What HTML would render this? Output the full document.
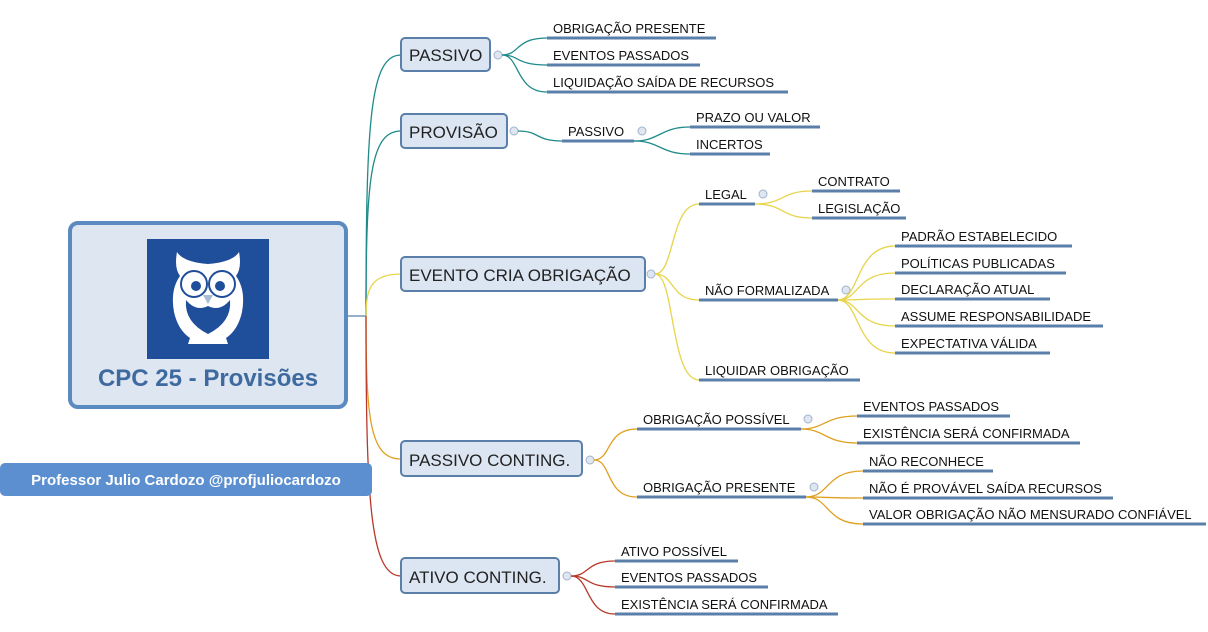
<!DOCTYPE html>
<html><head><meta charset="utf-8"><style>
html,body{margin:0;padding:0;background:#fff;}
svg{display:block;font-family:"Liberation Sans",Arial,sans-serif;}
.l{font-size:13px;fill:#111;}
.n{font-size:17px;fill:#222;}
.bar{stroke:#5a7fa8;stroke-width:3;}
.c{fill:#dfe6f0;stroke:#9fb3cc;stroke-width:1;}
.box{fill:#dce6f2;stroke:#5a7fa8;stroke-width:2;}
path{fill:none;stroke-width:1.3;}
.t{stroke:#1f8a8a}.y{stroke:#e8d44a}.o{stroke:#e0a020}.r{stroke:#b8392b}
</style></head><body>
<svg width="1208" height="632" viewBox="0 0 1208 632" xmlns="http://www.w3.org/2000/svg">
<line x1="346" y1="316" x2="366" y2="316" stroke="#5a7fa8" stroke-width="1.3"/>
<path class="t" d="M366 316 C366 120,370 55,401 55"/>
<path class="t" d="M366 316 C366 180,370 131,401 131"/>
<path class="y" d="M366 316 C366 290,370 274,401 274"/>
<path class="o" d="M366 316 C366 420,370 459,401 459"/>
<path class="r" d="M366 316 C366 500,370 576,401 576"/>

<rect x="70" y="223" width="276" height="184" rx="8" fill="#dde6f1" stroke="#5b8ac0" stroke-width="4"/>
<rect x="147" y="239" width="122" height="120" fill="#1f4e9a"/>
<!-- owl -->
<path d="M177 252 Q183 262 208 264 Q233 262 239 252 Q242 268 236 276 Q246 290 242 312 Q238 330 226 338 L228 344 L188 344 L190 338 Q178 330 174 312 Q170 290 180 276 Q174 268 177 252Z" style="fill:#fff;stroke:none"/>
<path d="M186 300 Q196 312 208 306 Q220 312 230 300 Q232 322 208 334 Q184 322 186 300Z" style="fill:#1f4e9a;stroke:none"/>
<circle cx="194" cy="284" r="13" fill="#fff" stroke="#1f4e9a" stroke-width="2"/>
<circle cx="222" cy="284" r="13" fill="#fff" stroke="#1f4e9a" stroke-width="2"/>
<circle cx="196" cy="286" r="5" fill="#1f4e9a"/><circle cx="220" cy="286" r="5" fill="#1f4e9a"/>
<path d="M203 295 L213 295 L208 304Z" style="fill:#a9bcd6;stroke:none"/>
<text x="208" y="386" text-anchor="middle" font-size="24" font-weight="bold" fill="#3f6aa0">CPC 25 - Provisões</text>

<rect x="0" y="463" width="372" height="33" rx="5" fill="#5b8fd0"/>
<text x="186" y="485" text-anchor="middle" font-size="15" font-weight="bold" fill="#fff">Professor Julio Cardozo @profjuliocardozo</text>

<rect class="box" x="401" y="38" width="89" height="33" rx="4"/><text class="n" x="409" y="61">PASSIVO</text>
<rect class="box" x="401" y="114" width="106" height="34" rx="4"/><text class="n" x="409" y="138">PROVISÃO</text>
<rect class="box" x="401" y="257" width="244" height="34" rx="4"/><text class="n" x="409" y="281">EVENTO CRIA OBRIGAÇÃO</text>
<rect class="box" x="401" y="441" width="181" height="35" rx="4"/><text class="n" x="409" y="466">PASSIVO CONTING.</text>
<rect class="box" x="401" y="558" width="158" height="35" rx="4"/><text class="n" x="409" y="583">ATIVO CONTING.</text>

<circle class="c" cx="498" cy="55" r="4"/>
<path class="t" d="M502 55 C520 55,515 38,547 38"/>
<path class="t" d="M502 55 C520 55,515 65,547 65"/>
<path class="t" d="M502 55 C520 55,515 92,547 92"/>
<line class="bar" x1="547" y1="38" x2="716" y2="38"/><text class="l" x="553" y="33">OBRIGAÇÃO PRESENTE</text>
<line class="bar" x1="547" y1="65" x2="700" y2="65"/><text class="l" x="553" y="60">EVENTOS PASSADOS</text>
<line class="bar" x1="547" y1="92" x2="788" y2="92"/><text class="l" x="553" y="87">LIQUIDAÇÃO SAÍDA DE RECURSOS</text>

<circle class="c" cx="514" cy="131" r="4"/>
<path class="t" d="M518 131 C540 131,535 141,562 141"/>
<line class="bar" x1="562" y1="141" x2="634" y2="141"/><text class="l" x="568" y="136">PASSIVO</text>
<circle class="c" cx="642" cy="131" r="4"/>
<path class="t" d="M634 141 C660 141,660 127,690 127"/>
<path class="t" d="M634 141 C660 141,660 154,690 154"/>
<line class="bar" x1="690" y1="127" x2="820" y2="127"/><text class="l" x="696" y="122">PRAZO OU VALOR</text>
<line class="bar" x1="690" y1="154" x2="770" y2="154"/><text class="l" x="696" y="149">INCERTOS</text>

<circle class="c" cx="651" cy="274" r="4"/>
<path class="y" d="M655 274 C675 274,670 204,699 204"/>
<path class="y" d="M655 274 C675 274,670 300,699 300"/>
<path class="y" d="M655 274 C675 274,670 380,699 380"/>
<line class="bar" x1="699" y1="204" x2="755" y2="204"/><text class="l" x="705" y="199">LEGAL</text>
<circle class="c" cx="763" cy="194" r="4"/>
<path class="y" d="M755 204 C785 204,780 191,812 191"/>
<path class="y" d="M755 204 C785 204,780 218,812 218"/>
<line class="bar" x1="812" y1="191" x2="900" y2="191"/><text class="l" x="818" y="186">CONTRATO</text>
<line class="bar" x1="812" y1="218" x2="906" y2="218"/><text class="l" x="818" y="213">LEGISLAÇÃO</text>
<line class="bar" x1="699" y1="300" x2="838" y2="300"/><text class="l" x="705" y="295">NÃO FORMALIZADA</text>
<circle class="c" cx="846" cy="290" r="4"/>
<path class="y" d="M838 300 C860 300,855 246,895 246"/>
<path class="y" d="M838 300 C860 300,855 273,895 273"/>
<path class="y" d="M838 300 C860 300,855 299,895 299"/>
<path class="y" d="M838 300 C860 300,855 326,895 326"/>
<path class="y" d="M838 300 C860 300,855 353,895 353"/>
<line class="bar" x1="895" y1="246" x2="1072" y2="246"/><text class="l" x="901" y="241">PADRÃO ESTABELECIDO</text>
<line class="bar" x1="895" y1="273" x2="1066" y2="273"/><text class="l" x="901" y="268">POLÍTICAS PUBLICADAS</text>
<line class="bar" x1="895" y1="299" x2="1050" y2="299"/><text class="l" x="901" y="294">DECLARAÇÃO ATUAL</text>
<line class="bar" x1="895" y1="326" x2="1103" y2="326"/><text class="l" x="901" y="321">ASSUME RESPONSABILIDADE</text>
<line class="bar" x1="895" y1="353" x2="1050" y2="353"/><text class="l" x="901" y="348">EXPECTATIVA VÁLIDA</text>
<line class="bar" x1="699" y1="380" x2="860" y2="380"/><text class="l" x="705" y="375">LIQUIDAR OBRIGAÇÃO</text>

<circle class="c" cx="590" cy="460" r="4"/>
<path class="o" d="M594 460 C612 460,605 429,637 429"/>
<path class="o" d="M594 460 C612 460,605 497,637 497"/>
<line class="bar" x1="637" y1="429" x2="801" y2="429"/><text class="l" x="643" y="424">OBRIGAÇÃO POSSÍVEL</text>
<circle class="c" cx="808" cy="419" r="4"/>
<path class="o" d="M801 429 C825 429,825 416,857 416"/>
<path class="o" d="M801 429 C825 429,825 443,857 443"/>
<line class="bar" x1="857" y1="416" x2="1010" y2="416"/><text class="l" x="863" y="411">EVENTOS PASSADOS</text>
<line class="bar" x1="857" y1="443" x2="1080" y2="443"/><text class="l" x="863" y="438">EXISTÊNCIA SERÁ CONFIRMADA</text>
<line class="bar" x1="637" y1="497" x2="806" y2="497"/><text class="l" x="643" y="492">OBRIGAÇÃO PRESENTE</text>
<circle class="c" cx="814" cy="487" r="4"/>
<path class="o" d="M806 497 C830 497,825 471,863 471"/>
<path class="o" d="M806 497 C830 497,825 498,863 498"/>
<path class="o" d="M806 497 C830 497,825 524,863 524"/>
<line class="bar" x1="863" y1="471" x2="993" y2="471"/><text class="l" x="869" y="466">NÃO RECONHECE</text>
<line class="bar" x1="863" y1="498" x2="1113" y2="498"/><text class="l" x="869" y="493">NÃO É PROVÁVEL SAÍDA RECURSOS</text>
<line class="bar" x1="863" y1="524" x2="1206" y2="524"/><text class="l" x="869" y="519">VALOR OBRIGAÇÃO NÃO MENSURADO CONFIÁVEL</text>

<circle class="c" cx="567" cy="576" r="4"/>
<path class="r" d="M571 576 C590 576,585 561,615 561"/>
<path class="r" d="M571 576 C590 576,585 587,615 587"/>
<path class="r" d="M571 576 C590 576,585 614,615 614"/>
<line class="bar" x1="615" y1="561" x2="738" y2="561"/><text class="l" x="621" y="556">ATIVO POSSÍVEL</text>
<line class="bar" x1="615" y1="587" x2="768" y2="587"/><text class="l" x="621" y="582">EVENTOS PASSADOS</text>
<line class="bar" x1="615" y1="614" x2="838" y2="614"/><text class="l" x="621" y="609">EXISTÊNCIA SERÁ CONFIRMADA</text>
</svg>
</body></html>
